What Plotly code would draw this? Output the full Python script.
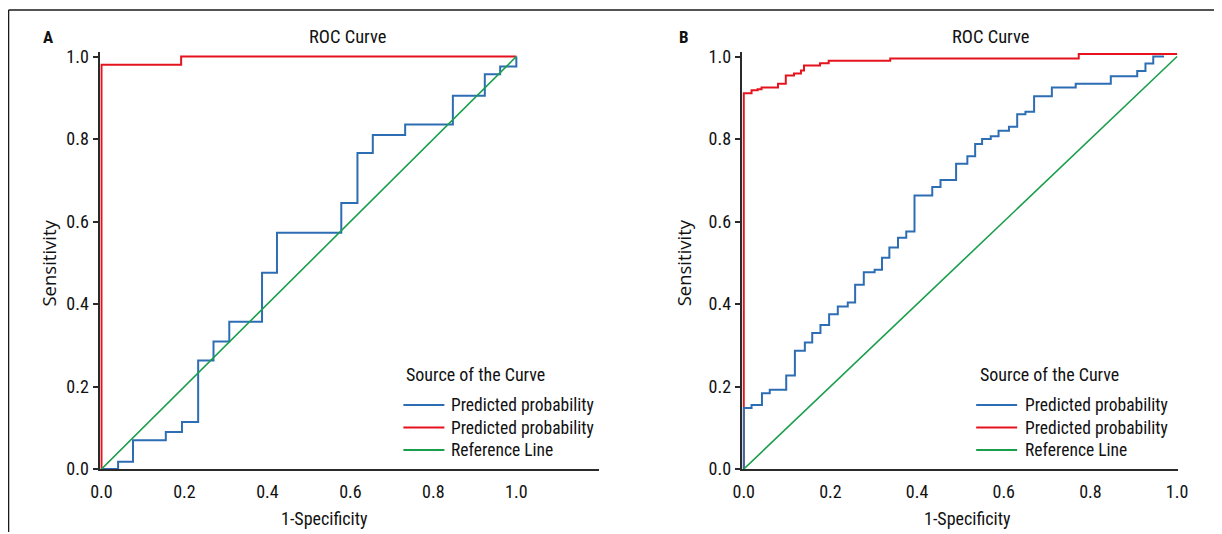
import plotly.graph_objects as go

# figure canvas; the browser's default 8px body margin is allowed for
OFF = 8
W, H = 1222, 534
# observed photo mapping (photo = a * page + b), measured from earlier renders
AXS, BX = 0.984, 8.6
AYS, BY = 0.970, 6.2

# ---------------- data ----------------
series_names = ["Predicted probability", "Predicted probability", "Reference Line"]
series_colors = ["#2d6db4", "#e5131d", "#1a9e4b"]

# Panel A
a_blue_fpr = [0.0, 0.040, 0.076, 0.155, 0.194, 0.233, 0.270, 0.308, 0.387, 0.423,
              0.578, 0.617, 0.654, 0.732, 0.847, 0.924, 0.961, 1.0]
a_blue_tpr = [0.0, 0.018, 0.070, 0.090, 0.114, 0.263, 0.309, 0.357, 0.476, 0.573,
              0.645, 0.766, 0.810, 0.835, 0.905, 0.957, 0.976, 1.0]
a_red_fpr = [0.0, 0.0, 0.192, 1.0]
a_red_tpr = [0.0, 0.980, 1.0, 1.0]

# Panel B
b_blue_fpr = [0.0, 0.0, 0.018, 0.042, 0.060, 0.098, 0.118, 0.141, 0.158, 0.177, 0.197,
              0.217, 0.240, 0.257, 0.277, 0.302, 0.319, 0.336, 0.356, 0.375, 0.394,
              0.435, 0.454, 0.490, 0.516, 0.534, 0.550, 0.570, 0.588, 0.612, 0.631,
              0.650, 0.670, 0.711, 0.766, 0.847, 0.908, 0.927, 0.945, 0.970]
b_blue_tpr = [0.0, 0.148, 0.155, 0.184, 0.192, 0.227, 0.287, 0.307, 0.330, 0.349, 0.375,
              0.394, 0.404, 0.447, 0.477, 0.483, 0.512, 0.537, 0.561, 0.576, 0.663,
              0.684, 0.701, 0.740, 0.758, 0.788, 0.800, 0.807, 0.820, 0.830, 0.860,
              0.866, 0.904, 0.925, 0.934, 0.952, 0.965, 0.983, 1.0, 1.0]
b_red_fpr = [0.0, 0.0, 0.018, 0.032, 0.041, 0.079, 0.097, 0.116, 0.132, 0.139, 0.176,
             0.196, 0.338, 0.773, 1.0]
b_red_tpr = [0.0, 0.911, 0.918, 0.921, 0.925, 0.934, 0.954, 0.959, 0.966, 0.978, 0.984,
             0.990, 0.995, 1.006, 1.006]

ref_x = [0.0, 1.0]
ref_y = [0.0, 1.0]

x_ticks = [0.0, 0.2, 0.4, 0.6, 0.8, 1.0]
x_tick_text = ["0.0", "0.2", "0.4", "0.6", "0.8", "1.0"]
y_ticks = [0.0, 0.2, 0.4, 0.6, 0.8, 1.0]
y_tick_text = ["0.0", "0.2", "0.4", "0.6", "0.8", "1.0"]

panel_letters = ["A", "B"]
chart_title = "ROC Curve"
x_title = "1-Specificity"
y_title = "Sensitivity"
legend_title = "Source of the Curve"
legend_order = [0, 1, 2]   # legend rows: blue, red, green

# ---------------- styling ----------------
NARROW = "Roboto Condensed, Liberation Sans Narrow, Arial Narrow, Roboto, sans-serif"
WIDE = "Open Sans, Noto Sans, DejaVu Sans, sans-serif"
AX = "#2a2a2a"
TXT = "#111111"

def fx(r):
    """reference pixel column -> figure pixel column"""
    return (r - BX) / AXS - OFF

def fy(r):
    """reference pixel row -> figure pixel row"""
    return (r - BY) / AYS - OFF

def px_x(r):
    return fx(r) / W

def px_y(r):
    return (H - fy(r)) / H

# geometry in reference pixels
y0_px, y1_px = 469.0, 56.5
yu = y0_px - y1_px
yr = [0.0, 1.012]
ydom = [px_y(y0_px - yr[0] * yu), px_y(y0_px - yr[1] * yu)]

xa0, xau = 100.0, 415.0
xra = [-0.003, 1.2]
xdomA = [px_x(xa0 + xra[0] * xau), px_x(xa0 + xra[1] * xau)]

xb0, xbu = 742.5, 433.5
xrb = [-0.003, 1.003]
xdomB = [px_x(xb0 + xrb[0] * xbu), px_x(xb0 + xrb[1] * xbu)]

fig = go.Figure()

def add_panel(blue_x, blue_y, red_x, red_y, xa, ya):
    fig.add_trace(go.Scatter(x=red_x, y=red_y, mode="lines",
                             line=dict(color=series_colors[1], width=2, shape="hv"),
                             name=series_names[1], xaxis=xa, yaxis=ya, showlegend=False, hoverinfo="skip"))
    fig.add_trace(go.Scatter(x=blue_x, y=blue_y, mode="lines",
                             line=dict(color=series_colors[0], width=2, shape="hv"),
                             name=series_names[0], xaxis=xa, yaxis=ya, showlegend=False, hoverinfo="skip"))
    fig.add_trace(go.Scatter(x=ref_x, y=ref_y, mode="lines",
                             line=dict(color=series_colors[2], width=1.6),
                             name=series_names[2], xaxis=xa, yaxis=ya, showlegend=False, hoverinfo="skip"))

add_panel(a_blue_fpr, a_blue_tpr, a_red_fpr, a_red_tpr, "x", "y")
add_panel(b_blue_fpr, b_blue_tpr, b_red_fpr, b_red_tpr, "x2", "y2")

tickfont = dict(family=NARROW, size=18, color=TXT)

def xaxis_main(dom, rng, anchor):
    return dict(domain=dom, range=rng, anchor=anchor, tickvals=x_ticks, ticktext=x_tick_text,
                ticks="", showgrid=False, zeroline=False, showline=True, linecolor=AX, linewidth=2,
                tickfont=tickfont, ticklabelstandoff=5, layer="below traces", fixedrange=True)

def xaxis_end(over, rng, anchor, ends):
    return dict(overlaying=over, range=rng, anchor=anchor, tickvals=ends, showticklabels=False,
                ticks="outside", ticklen=6, tickwidth=1.5, tickcolor=AX, showgrid=False,
                zeroline=False, showline=False, layer="below traces", fixedrange=True)

def yaxis_main(dom, anchor):
    return dict(domain=dom, range=yr, anchor=anchor, tickvals=y_ticks, ticktext=y_tick_text,
                ticks="outside", ticklen=6, tickwidth=1.5, tickcolor=AX, showgrid=False,
                zeroline=False, showline=True, linecolor=AX, linewidth=1.5, tickfont=tickfont,
                layer="below traces", fixedrange=True)

fig.update_layout(
    width=W, height=H,
    margin=dict(l=0, r=0, t=0, b=0),
    paper_bgcolor="white", plot_bgcolor="white",
    xaxis=xaxis_main(xdomA, xra, "y"),
    yaxis=yaxis_main(ydom, "x"),
    xaxis2=xaxis_main(xdomB, xrb, "y2"),
    yaxis2=yaxis_main(ydom, "x2"),
    xaxis3=xaxis_end("x", xra, "y", [0.0, 1.2]),
    xaxis4=xaxis_end("x2", xrb, "y2", [0.0, 1.0]),
    showlegend=False,
)

ann = []
def text(x, y, s, size, family=NARROW, bold=False, angle=0, xanchor="center"):
    ann.append(dict(x=px_x(x), y=px_y(y), xref="paper", yref="paper",
                    text=("<b>%s</b>" % s) if bold else s,
                    showarrow=False, font=dict(family=family, size=size, color=TXT),
                    xanchor=xanchor, yanchor="middle", textangle=angle))

text(46, 37, panel_letters[0], 17, bold=True)
text(683, 37, panel_letters[1], 17, bold=True)
text(346, 37, chart_title, 18.5)
text(989, 37, chart_title, 18.5)
text(323, 518, x_title, 18)
text(966, 518, x_title, 18)
text(47, 263, y_title, 18.5, family=WIDE, angle=-90)
text(682, 263, y_title, 18.5, family=WIDE, angle=-90)

# legends (drawn per panel: title, swatch line, label)
legend_geo = [dict(x_title=403.0, x_line=402.0, x_text=448.0),
              dict(x_title=977.0, x_line=975.0, x_text=1021.5)]
legend_title_y = 374.0
legend_row_y = [405.0, 427.5, 450.0]
swatch_len = 41.0

shapes = []
for g in legend_geo:
    text(g["x_title"], legend_title_y, legend_title, 18, xanchor="left")
    for r, si in enumerate(legend_order):
        yy = legend_row_y[r]
        shapes.append(dict(type="line", xref="paper", yref="paper",
                           x0=px_x(g["x_line"]), x1=px_x(g["x_line"] + swatch_len),
                           y0=px_y(yy), y1=px_y(yy),
                           line=dict(color=series_colors[si], width=2)))
        text(g["x_text"], yy, series_names[si], 17.5, xanchor="left")

# figure frame (top and left)
shapes.append(dict(type="line", xref="paper", yref="paper", x0=px_x(7), x1=1.0, y0=px_y(10), y1=px_y(10),
                   line=dict(color="#1a1a1a", width=1.5)))
shapes.append(dict(type="line", xref="paper", yref="paper", x0=px_x(7), x1=px_x(7), y0=0.0, y1=px_y(10),
                   line=dict(color="#1a1a1a", width=1.5)))

fig.update_layout(annotations=ann, shapes=shapes)

fig.write_html("out.html", config={"displayModeBar": False})
